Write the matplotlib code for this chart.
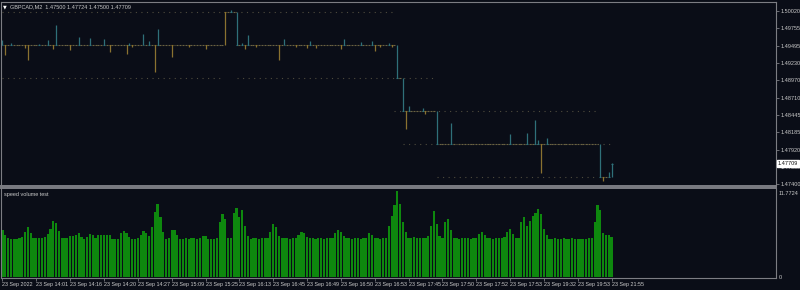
#!/usr/bin/python
# MT4-style chart: GBPCAD M2 bars on top, "speed volume test" histogram below

import matplotlib
matplotlib.use("Agg")
import matplotlib.pyplot as plt

BG = "#0a0d17"
FRAME = "#7c7d83"
TXT = "#c9c9c9"
TEAL = "#2f7079"   # bear bars
BROWN = "#8a7230"  # bull bars
FLAT = "#6a6242"
DOTS = "#4f4c3e"
GREEN = "#0e880e"

symbol = "GBPCAD,M2"
last_ohlc = [1.47500, 1.47724, 1.47500, 1.47709]

# price level runs: bar index where a run starts, and the close level of the run
run_start = [0, 79, 83, 140, 142, 154, 212]
run_level = [1.4950, 1.5000, 1.4950, 1.4900, 1.4850, 1.4800, 1.4750]

# wick spikes off the level: bar index -> extreme price
spike_idx = [0, 1, 3, 8, 9, 13, 16, 18, 19, 24, 27, 31, 36, 38, 44, 45, 46, 50, 52,
             54, 55, 60, 66, 72, 81, 85, 86, 87, 90, 98, 100, 104, 108, 109, 111,
             120, 121, 127, 131, 132, 134, 137, 138, 143, 144, 149, 150, 159, 180,
             186, 189, 190, 191, 193, 213, 215]
spike_px = [1.4958, 1.4935, 1.4954, 1.4946, 1.4928, 1.4952, 1.4958, 1.4944, 1.4981,
            1.4943, 1.4963, 1.4961, 1.4960, 1.4940, 1.4937, 1.4954, 1.4948, 1.4967,
            1.4957, 1.4910, 1.4975, 1.4932, 1.4948, 1.4944, 1.5003, 1.4954, 1.4944,
            1.4966, 1.4948, 1.4928, 1.4960, 1.4948, 1.4946, 1.4957, 1.4946, 1.4944,
            1.4960, 1.4955, 1.4957, 1.4941, 1.4948, 1.4954, 1.4948, 1.4823, 1.4858,
            1.4855, 1.4846, 1.4832, 1.4816, 1.4817, 1.4837, 1.4807, 1.4757, 1.4810,
            1.4745, 1.4758]

# dotted box levels: price, first bar, last bar
dot_level = [1.5000, 1.4900, 1.4900, 1.4850, 1.4800, 1.4750]
dot_from = [0, 0, 83, 139, 142, 154]
dot_to = [138, 78, 153, 211, 217, 211]

price_ticks = [1.50020, 1.49755, 1.49495, 1.49230, 1.48970, 1.48710, 1.48445,
               1.48185, 1.47920, 1.47660, 1.47400]

volume = [6.4, 5.8, 5.3, 5.2, 5.2, 5.2, 5.3, 5.5, 6.2, 6.9,
          6.0, 5.3, 5.3, 5.3, 5.3, 5.5, 5.9, 6.6, 7.7, 7.4,
          6.3, 5.3, 5.3, 5.3, 5.6, 5.6, 5.8, 6.0, 5.5, 5.2,
          5.5, 5.9, 5.8, 5.3, 5.7, 5.8, 5.8, 5.8, 5.7, 5.2,
          5.2, 5.2, 6.0, 6.3, 6.0, 5.5, 5.2, 5.2, 5.3, 5.8,
          6.3, 6.0, 5.6, 6.9, 8.9, 10.0, 8.2, 6.2, 5.2, 5.3,
          6.4, 6.4, 5.8, 5.2, 5.2, 5.3, 5.2, 5.3, 5.3, 5.2,
          5.3, 5.6, 5.6, 5.2, 5.2, 5.2, 5.3, 7.5, 8.6, 8.0,
          5.4, 5.3, 8.8, 9.5, 8.2, 9.2, 7.0, 5.6, 5.2, 5.3,
          5.3, 5.2, 5.3, 5.4, 5.3, 6.2, 7.2, 6.8, 5.6, 5.3,
          5.3, 5.3, 5.2, 5.3, 5.3, 5.8, 6.2, 6.0, 5.5, 5.3,
          5.3, 5.2, 5.3, 5.3, 5.2, 5.3, 5.3, 5.3, 6.0, 6.4,
          6.2, 5.6, 5.3, 5.3, 5.2, 5.3, 5.3, 5.2, 5.3, 5.3,
          6.0, 5.8, 5.3, 5.3, 5.2, 5.3, 5.3, 7.0, 8.4, 9.8,
          11.7724, 10.0, 7.5, 6.2, 5.3, 5.3, 5.5, 5.3, 5.3, 5.3,
          5.4, 5.6, 7.0, 9.0, 7.2, 5.6, 5.4, 7.5, 8.0, 6.5,
          5.3, 5.3, 5.2, 5.3, 5.3, 5.3, 5.2, 5.3, 5.3, 5.9,
          6.1, 5.8, 5.3, 5.3, 5.2, 5.3, 5.3, 5.3, 5.5, 6.2,
          6.6, 5.9, 5.3, 5.3, 7.5, 8.2, 7.0, 7.6, 8.4, 8.8,
          9.3, 8.6, 6.6, 5.8, 5.2, 5.2, 5.3, 5.2, 5.2, 5.3,
          5.2, 5.2, 5.3, 5.2, 5.2, 5.2, 5.2, 5.2, 5.3, 5.3,
          7.5, 9.9, 9.2, 6.0, 5.7, 5.7, 5.5]
vol_max = 11.7724

time_labels = ["23 Sep 2022", "23 Sep 14:01", "23 Sep 14:16", "23 Sep 14:20",
               "23 Sep 14:27", "23 Sep 15:09", "23 Sep 15:25", "23 Sep 16:13",
               "23 Sep 16:45", "23 Sep 16:49", "23 Sep 16:50", "23 Sep 16:53",
               "23 Sep 17:45", "23 Sep 17:50", "23 Sep 17:52", "23 Sep 17:53",
               "23 Sep 19:32", "23 Sep 19:53", "23 Sep 21:55"]
bars_per_label = 12

# build OHLC from the runs and spikes
n = len(volume)
closes = []
for i in range(n):
    lvl = run_level[0]
    for s, l in zip(run_start, run_level):
        if i >= s:
            lvl = l
    closes.append(lvl)
opens = [closes[0]] + closes[:-1]
highs = [max(o, c) for o, c in zip(opens, closes)]
lows = [min(o, c) for o, c in zip(opens, closes)]
cols = []
for i in range(n):
    if closes[i] > opens[i]:
        cols.append(BROWN)
    elif closes[i] < opens[i]:
        cols.append(TEAL)
    else:
        cols.append(FLAT)
for i, p in zip(spike_idx, spike_px):
    if p > highs[i]:
        highs[i] = p
        cols[i] = TEAL
    else:
        lows[i] = p
        cols[i] = BROWN
opens[-1], highs[-1], lows[-1], closes[-1] = last_ohlc
cols[-1] = TEAL

fig = plt.figure(figsize=(8, 2.9), dpi=100, facecolor=BG)
ax = fig.add_axes([1 / 800, 104 / 290, 775 / 800, 184 / 290], facecolor=BG)
ax2 = fig.add_axes([1 / 800, 12 / 290, 775 / 800, 90 / 290], facecolor=BG)

xmin, xmax = -0.53, 274.3

# dotted levels
for p, a, b in zip(dot_level, dot_from, dot_to):
    ax.plot([a, b], [p, p], color=DOTS, lw=0.8, ls=(0, (1, 4)), zorder=1)

# bars
for i in range(n):
    if highs[i] - lows[i] > 1e-6:
        ax.vlines(i, lows[i], highs[i], color=cols[i], lw=0.9, zorder=3)
    ax.hlines(closes[i], i - 0.35, i + 0.35, color=cols[i], lw=0.8, zorder=2)

ax.set_xlim(xmin, xmax)
ax.set_ylim(1.47370, 1.50156)
ax.yaxis.tick_right()
ax.set_yticks(price_ticks)
ax.set_yticklabels(["%.5f" % t for t in price_ticks])
ax.tick_params(axis="y", direction="out", length=2, width=0.6, pad=1,
               colors=FRAME, labelcolor=TXT, labelsize=4)
ax.set_xticks([])
for lbl in ax.get_yticklabels():
    lbl.set_family("Liberation Sans")

# current price box
ax.text(1.002, last_ohlc[3], "%.5f" % last_ohlc[3], transform=ax.get_yaxis_transform(),
        fontsize=4, family="Liberation Sans", color="#101010", va="center", ha="left",
        bbox=dict(boxstyle="square,pad=0.15", fc="white", ec="white"), zorder=10,
        clip_on=False)

# title
fig.text(3 / 800, 1 - 7 / 290, "\u25bc", fontsize=3.5, color="white", va="center")
fig.text(10 / 800, 1 - 7 / 290,
         "%s  %.5f %.5f %.5f %.5f" % (symbol, last_ohlc[0], last_ohlc[1], last_ohlc[2], last_ohlc[3]),
         fontsize=4, family="Liberation Sans", color=TXT, va="center")

# volume histogram
ax2.bar(range(n), volume, width=0.78, color=GREEN, linewidth=0)
ax2.set_xlim(xmin, xmax)
ax2.set_ylim(-0.137, 12.18)
ax2.yaxis.tick_right()
ax2.set_yticks([0, vol_max])
ax2.set_yticklabels(["0", "%.4f" % vol_max])
ax2.tick_params(axis="y", direction="out", length=0, pad=2,
                labelcolor=TXT, labelsize=4)
for lbl in ax2.get_yticklabels():
    lbl.set_family("Liberation Sans")
ax2.get_yticklabels()[1].set_va("top")
ax2.set_xticks([k * bars_per_label for k in range(len(time_labels))])
ax2.set_xticklabels(time_labels, ha="left")
ax2.tick_params(axis="x", direction="out", length=2, width=0.6, pad=1,
                colors=FRAME, labelcolor=TXT, labelsize=3.9)
for lbl in ax2.get_xticklabels():
    lbl.set_family("Liberation Sans")
ax2.text(3 / 775, 1 - 4 / 90, "speed volume test", transform=ax2.transAxes,
         fontsize=4, family="Liberation Sans", color=TXT, va="top", ha="left")

for a in (ax, ax2):
    for s in a.spines.values():
        s.set_color(FRAME)
        s.set_linewidth(0.8)
ax.spines["bottom"].set_linewidth(1.4)
ax2.spines["top"].set_linewidth(1.4)

fig.savefig("out.png", dpi=100, facecolor=BG)
